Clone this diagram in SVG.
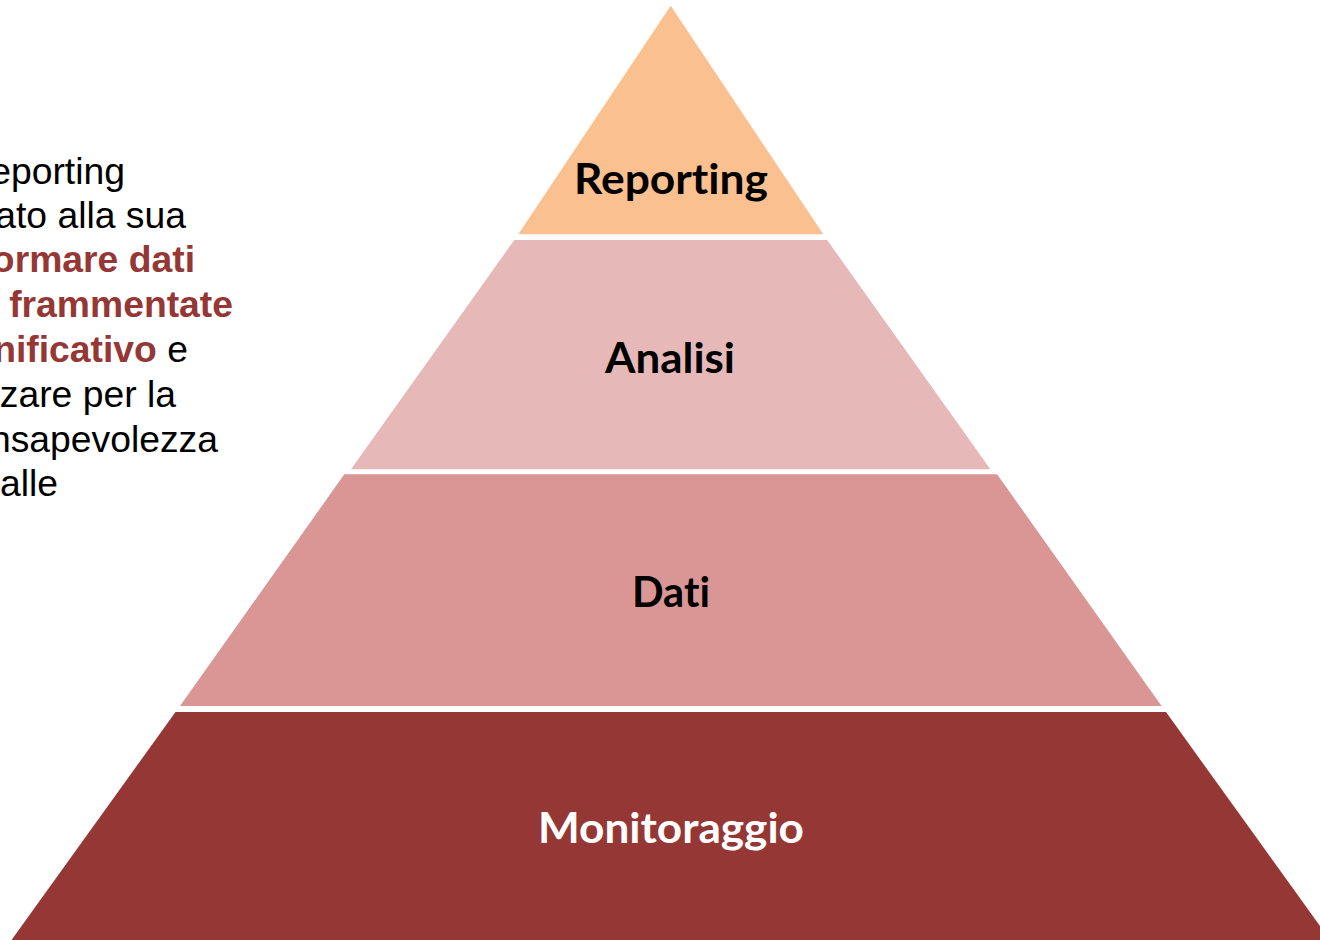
<svg xmlns="http://www.w3.org/2000/svg" width="1320" height="940" viewBox="0 0 1320 940">
<style>
.lbl{font-family:Lato,"Open Sans","Liberation Sans",sans-serif;font-weight:700;font-size:42px;text-anchor:middle;font-variant-ligatures:none;font-feature-settings:"liga" 0,"clig" 0}
.body{font-family:"Liberation Sans",Arial,sans-serif;font-size:37.3px;fill:#000;text-anchor:end}
.hl{font-weight:700;fill:#953735}
</style>
<rect width="1320" height="940" fill="#fff"/>
<g id="intro-text">
<text class="body" x="125" y="183.5">eporting</text>
<text class="body" x="186" y="227.5">ato alla sua</text>
<text class="body hl" x="195" y="271.5">ormare dati</text>
<text class="body hl" x="233" y="316.5">frammentate</text>
<text class="body" x="188" y="361.5"><tspan class="hl">nificativo</tspan> e</text>
<text class="body" x="176" y="406.5">zare per la</text>
<text class="body" x="218" y="451.5">nsapevolezza</text>
<text class="body" x="58" y="495.5">alle</text>
</g>
<g id="reporting">
<polygon points="670.7,5.7 823.3,234.3 518.3,234.3" fill="#FAC090"/>
<text class="lbl" x="671" y="194" fill="#000" textLength="194" lengthAdjust="spacingAndGlyphs">Reporting</text>
</g>
<g id="analisi">
<polygon points="514.3,240 827.1,240 990.4,469.3 351,469.3" fill="#E6B9B8"/>
<text class="lbl" x="670" y="373" fill="#000" textLength="130" lengthAdjust="spacingAndGlyphs">Analisi</text>
</g>
<g id="dati">
<polygon points="344.3,474.3 997.1,474.3 1161.6,706 180,706" fill="#D99694"/>
<text class="lbl" x="671" y="607" fill="#000" textLength="78" lengthAdjust="spacingAndGlyphs">Dati</text>
</g>
<g id="monitoraggio">
<polygon points="175.5,712 1166,712 1330,940 11.5,940" fill="#953735"/>
<text class="lbl" x="671" y="842.5" fill="#fff" textLength="266" lengthAdjust="spacingAndGlyphs">Monitoraggio</text>
</g>
<g id="connectors"/>
</svg>
